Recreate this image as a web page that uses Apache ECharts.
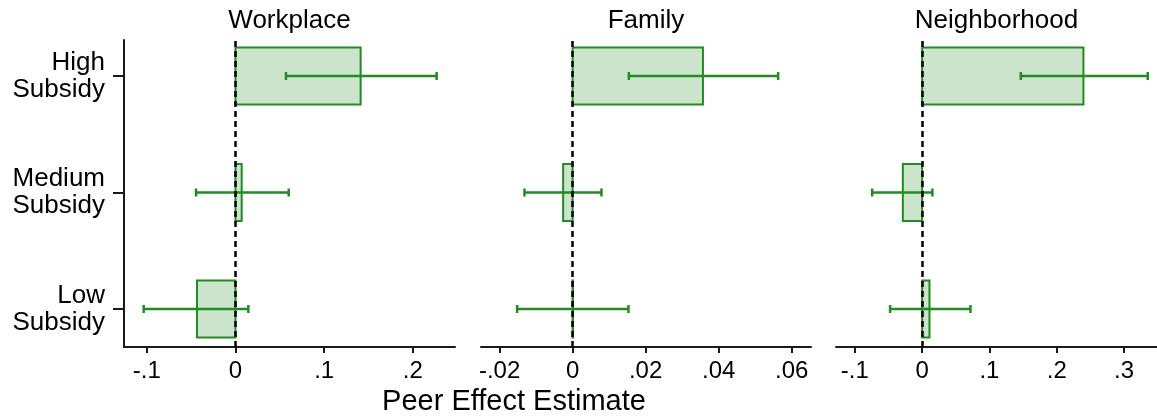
<!DOCTYPE html>
<html>
<head>
<meta charset="utf-8">
<script src="https://cdn.jsdelivr.net/npm/echarts@6/dist/echarts.min.js"></script>
<style>
html,body{margin:0;padding:0;background:#fff;}
#chart{width:1157px;height:419px;}
</style>
</head>
<body>
<div id="chart"></div>
<script>
// ---- data ----
var categories = ['Low\nSubsidy', 'Medium\nSubsidy', 'High\nSubsidy']; // bottom to top
var categoryPositions = [1, 2, 3];
var panelTitles = ['Workplace', 'Family', 'Neighborhood'];
var xAxisTitle = 'Peer Effect Estimate';

var workplaceEst = [-0.0434, 0.0070, 0.1411];
var workplaceLo  = [-0.1035, -0.0445, 0.0569];
var workplaceHi  = [0.0145, 0.0600, 0.2268];

var familyEst = [0.0001, -0.0026, 0.0357];
var familyLo  = [-0.0152, -0.0132, 0.0154];
var familyHi  = [0.0153, 0.0079, 0.0563];

var neighborhoodEst = [0.0109, -0.0287, 0.2397];
var neighborhoodLo  = [-0.0476, -0.0743, 0.1466];
var neighborhoodHi  = [0.0718, 0.0153, 0.3353];

var workplaceTicks = [-0.1, 0, 0.1, 0.2];
var familyTicks = [-0.02, 0, 0.02, 0.04, 0.06];
var neighborhoodTicks = [-0.1, 0, 0.1, 0.2, 0.3];

// ---- layout / style ----
var FONT = '"Liberation Sans", Arial, sans-serif';
var GREEN = '#228B22';
var FILL = 'rgba(34,139,34,0.23)';
var AXIS = '#1a1a1a';
var BAR_HALF = 0.245;

var panels = [
  {est: workplaceEst, lo: workplaceLo, hi: workplaceHi, ticks: workplaceTicks, min: -0.1257, max: 0.2475, left: 124, width: 331},
  {est: familyEst, lo: familyLo, hi: familyHi, ticks: familyTicks, min: -0.0251, max: 0.0653, left: 481, width: 330},
  {est: neighborhoodEst, lo: neighborhoodLo, hi: neighborhoodHi, ticks: neighborhoodTicks, min: -0.128, max: 0.349, left: 836, width: 321}
];

function fmt(v) {
  if (Math.abs(v) < 1e-12) return '0';
  var s = String(+v.toFixed(4));
  return s.replace('0.', '.');
}

var grids = [], xAxes = [], yAxes = [], series = [], titles = [];
panels.forEach(function (p, i) {
  grids.push({left: p.left, top: 40, width: p.width, height: 307});
  xAxes.push({
    type: 'value', gridIndex: i, min: p.min, max: p.max,
    splitLine: {show: false},
    axisLine: {show: true, onZero: false, lineStyle: {color: AXIS, width: 2}},
    axisTick: {show: true, length: 6, lineStyle: {color: AXIS, width: 2}, customValues: p.ticks},
    axisLabel: {show: true, customValues: p.ticks, formatter: fmt, color: '#000',
      fontSize: 24, fontFamily: FONT, margin: 12}
  });
  yAxes.push({
    type: 'value', gridIndex: i, min: 0.674, max: 3.309,
    show: i === 0,
    splitLine: {show: false},
    axisLine: {show: i === 0, onZero: false, lineStyle: {color: AXIS, width: 2}},
    axisTick: {show: i === 0, length: 11, lineStyle: {color: AXIS, width: 2}, customValues: categoryPositions},
    axisLabel: {show: i === 0, customValues: categoryPositions,
      formatter: function (v) { return categories[categoryPositions.indexOf(Math.round(v))] || ''; },
      color: '#000', fontSize: 26, lineHeight: 27, fontFamily: FONT, margin: 19, align: 'right'}
  });
  titles.push({
    text: panelTitles[i], left: p.left + p.width / 2, top: 8, textAlign: 'center', padding: 0,
    textStyle: {fontSize: 26, fontWeight: 'normal', color: '#000', fontFamily: FONT}
  });
  var data = p.est.map(function (e, k) { return [e, p.lo[k], p.hi[k], categoryPositions[k]]; });
  series.push({
    type: 'custom', xAxisIndex: i, yAxisIndex: i, data: data, z: 3,
    renderItem: function (params, api) {
      var e = api.value(0), lo = api.value(1), hi = api.value(2), y = api.value(3);
      var a = api.coord([0, y + BAR_HALF]);
      var b = api.coord([e, y - BAR_HALF]);
      var l = api.coord([lo, y]);
      var h = api.coord([hi, y]);
      var cap = 4;
      return {
        type: 'group',
        children: [
          {type: 'rect', shape: {x: Math.min(a[0], b[0]), y: a[1], width: Math.abs(b[0] - a[0]), height: b[1] - a[1]},
            style: {fill: FILL, stroke: GREEN, lineWidth: 2}},
          {type: 'line', shape: {x1: l[0], y1: l[1], x2: h[0], y2: h[1]}, style: {stroke: GREEN, lineWidth: 2.5}},
          {type: 'line', shape: {x1: l[0], y1: l[1] - cap, x2: l[0], y2: l[1] + cap}, style: {stroke: GREEN, lineWidth: 2.5}},
          {type: 'line', shape: {x1: h[0], y1: h[1] - cap, x2: h[0], y2: h[1] + cap}, style: {stroke: GREEN, lineWidth: 2.5}}
        ]
      };
    }
  });
  series.push({
    type: 'line', xAxisIndex: i, yAxisIndex: i, data: [], z: 2,
    markLine: {
      silent: true, symbol: 'none', label: {show: false},
      lineStyle: {color: '#000', type: [6, 4], width: 2.5},
      data: [{xAxis: 0}]
    }
  });
});

var chart = echarts.init(document.getElementById('chart'), null, {renderer: 'canvas'});
chart.setOption({
  animation: false,
  backgroundColor: '#fff',
  title: titles,
  grid: grids,
  xAxis: xAxes,
  yAxis: yAxes,
  series: series,
  graphic: [{
    type: 'text', x: 514, y: 387,
    style: {text: xAxisTitle, font: '29px ' + FONT, fill: '#000', align: 'center', verticalAlign: 'top'}
  }]
});
</script>
</body>
</html>
